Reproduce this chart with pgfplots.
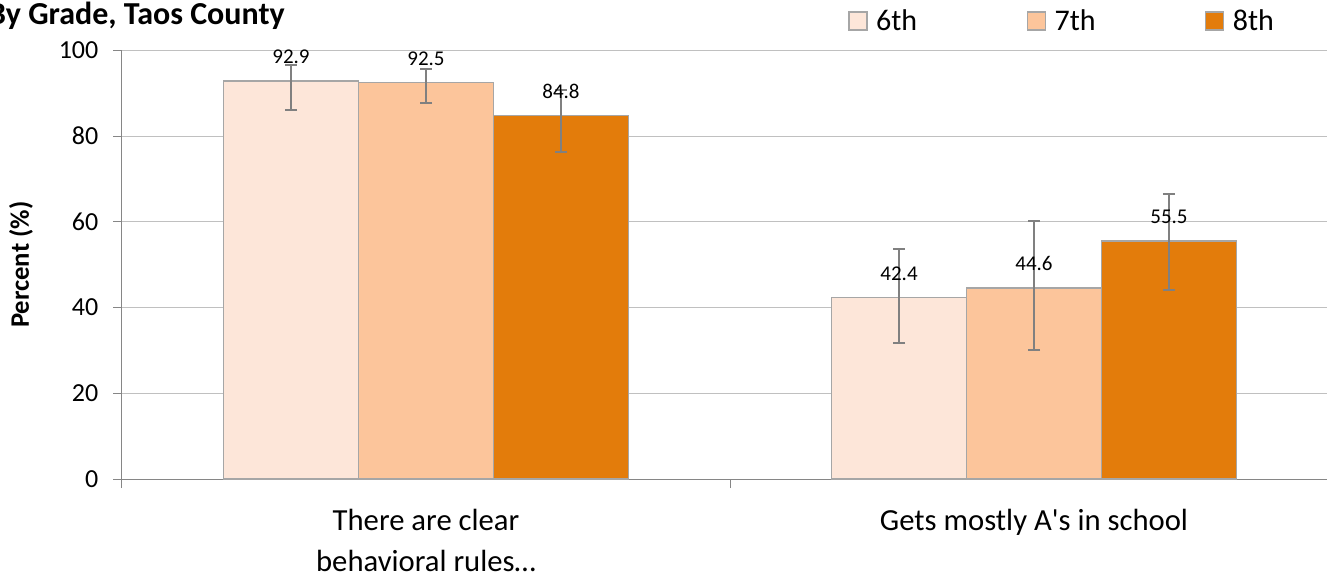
\documentclass[border=0pt]{standalone}
\usepackage{fontspec}
\setmainfont{Carlito}
\usepackage{pgfplots}
\pgfplotsset{compat=1.18}
\definecolor{c6}{HTML}{FDE6D9}
\definecolor{c7}{HTML}{FCC59B}
\definecolor{c8}{HTML}{E37C0B}
\definecolor{bord}{HTML}{A6A6A6}
\definecolor{errc}{HTML}{808080}
\definecolor{axc}{HTML}{868686}
\definecolor{gridc}{HTML}{C0C0C0}
\pgfplotsset{sqlegend/.style={legend image code/.code={\draw[##1] (0pt,-6.75pt) rectangle (13.5pt,6.75pt);}}}
\begin{document}
\begin{tikzpicture}
\path[use as bounding box] (-91.5pt,-74.25pt) rectangle (903.75pt,359.25pt);
\begin{axis}[
  scale only axis, width=912pt, height=321.4pt,
  xmin=-0.5, xmax=1.5, ymin=0, ymax=100,
  ybar=0pt, bar width=0.222,
  axis lines=left, axis line style={-, draw=axc, line width=0.75pt},
  ytick={0,20,...,100}, ymajorgrids, grid style={draw=gridc, line width=0.75pt},
  tick align=outside, major tick length=6.75pt,
  tick style={draw=axc, line width=0.75pt},
  /pgf/number format/assume math mode=true,
  yticklabel style={font=\fontsize{19.5}{23}\selectfont, xshift=-7.5pt},
  xtick={-0.5,0.5}, xticklabels={},
  extra x ticks={0,1},
  extra x tick labels={{There are clear\\behavioral rules…},{Gets mostly A\textquotesingle s in school}},
  extra x tick style={major tick length=0pt, grid=none},
  xticklabel style={font=\fontsize{23}{31}\selectfont, align=center, yshift=-19pt},
  ylabel={Percent (\%)},
  ylabel style={at={(axis description cs:-0.0831,0.5)}, anchor=center, font=\fontsize{20}{24}\selectfont\bfseries},
  legend columns=3,
  legend style={at={(axis description cs:0.597,1.069)}, anchor=west, draw=none, fill=none, inner sep=0pt,
    font=\fontsize{22.5}{27}\selectfont,
    /tikz/every even column/.append style={column sep=80pt},
    /tikz/every odd column/.append style={column sep=4.5pt}},
  legend cell align=left,
  nodes near coords,
  every node near coord/.append style={font=\fontsize{15.75}{18}\selectfont, yshift=9pt, text=black},
  error bars/y dir=both, error bars/y explicit,
  error bars/error bar style={draw=errc, line width=1.5pt},
  error bars/error mark options={rotate=90, draw=errc, mark size=4.5pt, line width=1.5pt},
]
\addplot[fill=c6, draw=bord, line width=1pt, sqlegend]
  coordinates {(0,92.9) += (0,3.7) -= (0,6.7) (1,42.4) += (0,11.3) -= (0,10.7)};
\addplot[fill=c7, draw=bord, line width=1pt, sqlegend]
  coordinates {(0,92.5) += (0,3.1) -= (0,4.8) (1,44.6) += (0,15.7) -= (0,14.6)};
\addplot[fill=c8, draw=bord, line width=1pt, sqlegend]
  coordinates {(0,84.8) += (0,6.0) -= (0,8.6) (1,55.5) += (0,10.9) -= (0,11.4)};
\legend{6th,7th,8th}
\end{axis}
\node[anchor=base east, inner sep=0pt, font=\fontsize{24}{28}\selectfont\bfseries] at (122.25pt,340.5pt) {By Grade, Taos County};
\end{tikzpicture}
\end{document}
